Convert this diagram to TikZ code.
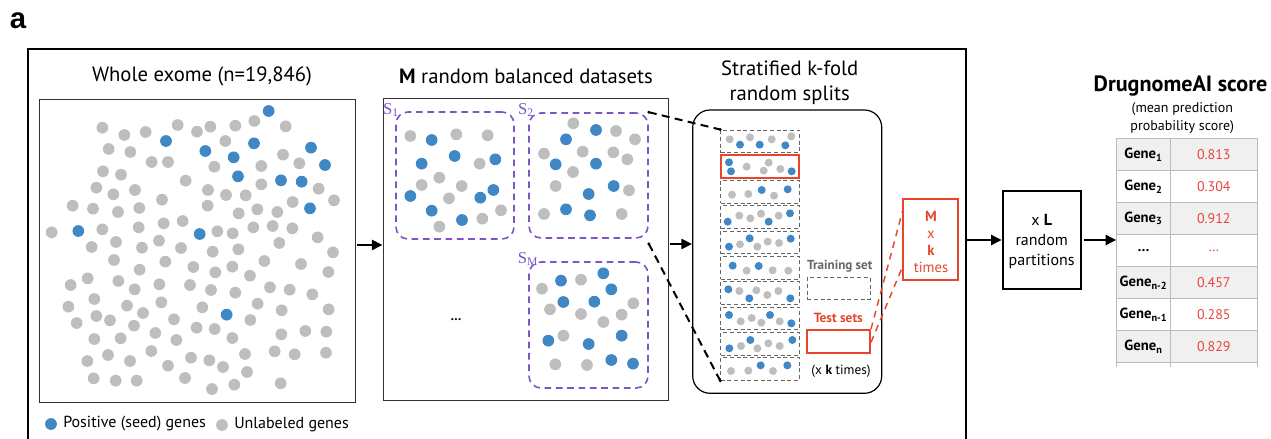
\documentclass[tikz,border=0pt]{standalone}
\usepackage{fontspec}
\setmainfont{PT Sans}
\newfontfamily\lblfont{Liberation Sans}
\newfontfamily\sserif{Liberation Serif}
\usetikzlibrary{arrows.meta,fit}
\definecolor{dgray}{HTML}{BEBEBE}
\definecolor{dblue}{HTML}{3F87C5}
\definecolor{dred}{HTML}{E8452C}
\definecolor{vred}{HTML}{E8453C}
\definecolor{dpurple}{HTML}{7D55C7}
\definecolor{tgray}{HTML}{BBBBBB}
\definecolor{rowgray}{HTML}{F0F0F0}
\definecolor{lblgray}{HTML}{666666}
\begin{document}
\begin{tikzpicture}[x=0.75pt,y=-0.75pt,
  ttl/.style={font=\fontsize{15.5}{18}\selectfont, inner sep=0pt},
  panel/.style={draw=black!80, line width=0.7pt, inner sep=0pt},
  pbox/.style={draw=dpurple, line width=1.2pt, dash pattern=on 5pt off 3.5pt, rounded corners=9pt, inner sep=0pt},
  slbl/.style={text=dpurple, font=\sserif\fontsize{12.5}{13}\selectfont, inner sep=0pt},
  strip/.style={draw=black!60, line width=0.7pt, dash pattern=on 3pt off 2pt, inner sep=0pt},
  redbox/.style={draw=dred, line width=1.5pt, inner sep=0pt},
  arr/.style={line width=1.9pt, -{Triangle[length=8pt,width=7.5pt]}},
  blk/.style={line width=1.5pt, dash pattern=on 6pt off 4pt},
  rdash/.style={draw=dred, line width=1.1pt, dash pattern=on 5pt off 4pt},
  cell/.style={draw=tgray, line width=0.7pt, inner sep=0pt},
  gcell/.style={cell, fill=rowgray},
  gname/.style={font=\fontsize{11}{12}\selectfont\bfseries},
  gval/.style={font=\fontsize{10.5}{12}\selectfont, text=vred}]
\useasboundingbox (0,0) rectangle (1271,439);

% panel label
\node[font=\lblfont\fontsize{22}{24}\selectfont\bfseries, inner sep=0pt] (lbla) at (18,21) {a};

% main frame
\draw[line width=1.5pt] (28,450) -- (28,49) -- (966,49) -- (966,450);

% ---------- Whole exome ----------
\node[ttl] (t1) at (202,76) {Whole exome (n=19,846)};
\node[panel, fit={(39,99) (355,402)}] (box1) {};
\foreach \a/\b in {307/383,373/405,437/396,533/375,591/395,631/380,706/377,763/363,857/379,
326/447,391/456,455/486,504/486,676/423,849/464,898/490,
309/514,363/524,557/542,643/500,784/498,784/553,956/566,
289/563,340/583,405/570,486/599,624/570,678/585,737/586,878/606,1002/601,
218/617,279/626,354/636,418/624,623/617,716/640,772/628,832/636,
155/697,307/688,416/682,491/670,548/663,652/694,698/700,760/682,818/678,877/685,953/712,
275/741,348/726,426/743,477/722,543/744,638/755,715/748,838/729,999/757,
342/780,496/785,419/809,580/801,646/817,697/800,750/827,793/783,903/792,985/816,
212/855,263/835,355/843,404/868,478/853,570/855,633/870,706/878,810/862,869/869,937/883,
205/920,283/897,381/917,484/907,607/922,773/911,845/931,986/928,
230/969,289/948,330/961,429/939,522/958,402/977,590/983,644/987,751/960,
283/1017,362/1015,466/999,529/1020,697/1014,844/1003,916/993,979/995,
262/1083,324/1065,390/1083,454/1053,573/1073,628/1081,669/1101,735/1062,824/1054,884/1063,978/1058,
281/1135,347/1142,410/1142,504/1097,555/1134,636/1167,703/1154,741/1116,842/1150}
  \fill[dgray] ({\a/3},{\b/3}) circle (4.4pt);
\foreach \a/\b in {806/333,498/423,616/453,762/430,933/443,701/472,975/495,714/529,843/541,905/545,930/625,235/693,599/702,680/944}
  \fill[dblue] ({\a/3},{\b/3}) circle (4.4pt);

% legend
\fill[dblue] (51,424) circle (4.4pt);
\node[anchor=west, inner sep=0pt, font=\fontsize{12}{14}\selectfont] (leg1) at (63,424) {Positive (seed) genes};
\fill[dgray] (222,425) circle (4.4pt);
\node[anchor=west, inner sep=0pt, font=\fontsize{12}{14}\selectfont] (leg2) at (234,425) {Unlabeled genes};

% ---------- M random balanced datasets ----------
\node[ttl] (t2) at (526,76) {\textbf{M} random balanced datasets};
\node[panel, fit={(383,98.7) (668,400.7)}] (box2) {};
\node[pbox, fit={(396,112) (514,239)}] (S1) {};
\node[pbox, fit={(529,113) (648,238)}] (S2) {};
\node[pbox, fit={(529,262) (648,388)}] (SM) {};
\node[slbl] (S1l) at (391,110) {S\textsubscript{1}};
\node[slbl] (S2l) at (526,110) {S\textsubscript{2}};
\node[slbl] (SMl) at (528,259) {S\textsubscript{M}};
\node[inner sep=0pt, font=\fontsize{10}{12}\selectfont\bfseries] (dots2) at (456,320) {\ldots};
% S1
\foreach \a/\b in {121/258,259/253,353/256,329/341,155/405,208/383,275/408,237/445,393/481,337/506,208/530,
 610/220,738/243,795/268,522/311,638/305,730/307,772/328,609/366,557/408,777/421,522/492,755/492,
 516/716,633/689,540/778,633/792,700/816,755/794,790/760,580/857,556/943,651/945}
  \fill[dgray] ({\a/3+370},{\b/3+50}) circle (4.4pt);
\foreach \a/\b in {185/270,155/341,254/318,376/328,121/438,331/443,370/420,185/482,276/510,
 588/268,678/240,557/343,678/341,731/408,656/432,588/478,660/496,
 573/692,700/670,724/718,580/756,673/755,535/872,755/857,656/882,724/930,789/941}
  \fill[dblue] ({\a/3+370},{\b/3+50}) circle (4.4pt);

% ---------- Stratified k-fold ----------
\node[ttl, align=center, font=\fontsize{15.5}{18.75}\selectfont] (t3) at (789.7,82.5) {Stratified k-fold\\random splits};
\node[draw, line width=0.9pt, rounded corners=13pt, inner sep=0pt, fit={(692.7,110) (881.7,393.3)}] (kfold) {};
\foreach \i in {1,3,4,5,6,7,8,9,10}
  \node[strip, fit={(720.7,{130+(\i-1)*25.3}) (799.3,{152.6+(\i-1)*25.3})}] (s\i) {};
\node[redbox, fit={(720.7,155.3) (799.3,177.9)}] (s2) {};
\foreach \a/\b in {149/268,210/262,275/268,334/259,
 200/350,266/338,251/362,301/357,
 156/434,205/432,282/437,
 178/497,211/505,243/491,296/497,
 180/583,232/590,263/575,297/579,
 200/662,278/661,325/662,
 178/723,229/721,262/735,295/723,
 182/814,215/804,244/818,299/814,
 183/888,232/895,265/880,299/888,
 153/963,205/962,279/963}
  \fill[dgray] ({\a/3+680},{\b/3+50}) circle (3pt);
\foreach \a/\b in {180/284,239/284,316/286,
 147/337,153/364,335/364,
 245/420,323/418,
 143/515,266/515,330/490,
 147/590,209/565,332/566,
 158/647,236/648,
 145/718,208/745,331/745,
 147/795,270/795,334/820,
 148/895,211/870,337/870,
 242/946,322/946}
  \fill[dblue] ({\a/3+680},{\b/3+50}) circle (3pt);

\node[inner sep=0pt, font=\fontsize{9.8}{11}\selectfont\bfseries, text=lblgray] (trl) at (839.7,266.7) {Training set};
\node[strip, fit={(807.3,277.7) (870,299.3)}] (train) {};
\node[inner sep=0pt, font=\fontsize{10}{11}\selectfont\bfseries, text=dred] (tsl) at (838.3,318.3) {Test sets};
\node[redbox, fit={(807.3,330) (870,352.7)}] (test) {};
\node[inner sep=0pt, font=\fontsize{10}{11}\selectfont] (ktimes) at (841,371) {(x \textbf{k} times)};

% M x k times
\node[redbox, fit={(903.3,199) (958.3,280)}] (mk) {};
\node[inner sep=0pt, align=center, text=dred, font=\fontsize{11}{12.75}\selectfont] (mkt) at (931,241.5) {\textbf{M}\\x\\\textbf{k}\\times};
\coordinate (mkA) at (903.3,208.3);
\coordinate (mkB) at (902.3,267.3);
\draw[rdash] (test.north east) -- (mkA);
\draw[rdash] ([yshift=-0.75pt]test.east) -- (mkB);

% black dashed connectors
\draw[blk] (S2.north east) -- (s1.north west);
\draw[blk] ([yshift=-3.75pt]S2.south east) -- (s10.south west);
\fill (S2.north east) circle (1.2pt);
\fill (s1.north west) circle (1.2pt);
\fill ([yshift=-3.75pt]S2.south east) circle (1.2pt);
\fill (s10.south west) circle (1.2pt);

% arrows inside frame
\coordinate (ya) at (0,245);
\coordinate (yb) at (0,244);
\draw[arr] ([xshift=1.5pt]box1.east |- ya) -- (box2.west |- ya);
\draw[arr] ([xshift=1.5pt]box2.east |- yb) -- (kfold.west |- yb);

% ---------- L partitions ----------
\node[draw, line width=1.5pt, inner sep=0pt, fit={(1002.7,190.7) (1081,289.3)}] (Lbox) {};
\node[inner sep=0pt, align=center, font=\fontsize{12}{15}\selectfont] (Lt) at (1041.7,241) {x \textbf{L}\\random\\partitions};
\coordinate (fr) at (966,240);
\draw[arr] (fr) -- (Lbox.west);

% ---------- DrugnomeAI table ----------
\node[inner sep=0pt, font=\fontsize{16.6}{18}\selectfont\bfseries] (t4) at (1180.5,86) {DrugnomeAI score};
\node[inner sep=0pt, align=center, font=\fontsize{10.5}{13}\selectfont] (t4s) at (1182.3,118) {(mean prediction\\probability score)};
\foreach \i/\g/\v/\st in {1/Gene\textsubscript{1}/0.813/gcell,
  2/Gene\textsubscript{2}/0.304/cell,
  3/Gene\textsubscript{3}/0.912/gcell,
  4/\ldots/\ldots/cell,
  5/Gene\textsubscript{n-2}/0.457/gcell,
  6/Gene\textsubscript{n-1}/0.285/cell,
  7/Gene\textsubscript{n}/0.829/gcell}{
  \node[\st, fit={(1116.7,{138.7+(\i-1)*32}) (1170.3,{170.7+(\i-1)*32})}] (c\i a) {};
  \node[\st, fit={(1170.3,{138.7+(\i-1)*32}) (1257.3,{170.7+(\i-1)*32})}] (c\i b) {};
  \node[gname, inner sep=0pt] (n\i) at (c\i a.center) {\g};
  \node[gval, inner sep=0pt] (v\i) at (c\i b.center) {\v};
}
\draw[tgray, line width=0.7pt] (c7a.south west) -- ++(0,4) (c7a.south east) -- ++(0,4) (c7b.south east) -- ++(0,4);
\draw[arr] ([xshift=1.5pt]Lbox.east) -- (c4a.west |- Lbox.east);
\end{tikzpicture}
\end{document}
